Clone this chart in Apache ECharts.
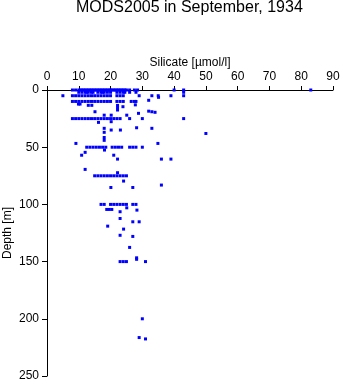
<!DOCTYPE html>
<html>
<head>
<meta charset="utf-8">
<script src="https://cdn.jsdelivr.net/npm/echarts@6/dist/echarts.min.js"></script>
<style>html,body{margin:0;padding:0;background:#fff;}#c{width:341px;height:384px;}</style>
</head>
<body>
<div id="c"></div>
<script>
// Silicate values (µmol/l) observed along standard depth levels
const depthLevels = [0, 2, 5, 10, 25, 50, 75, 100, 150];
const silicateAt0 = [8, 9, 10, 10.5, 11, 11.5, 12, 12.5, 13, 13.5, 14, 14.5, 15, 15.5, 16, 16.5, 17, 17.5, 18, 18.5, 19, 19.5, 20, 20.5, 21, 21.5, 22, 22.5, 23, 23.5, 24, 24.5, 25, 26, 27.5, 28.5, 40, 43, 83];
const silicateAt2 = [10, 11, 12, 12.5, 13, 14, 14.5, 16, 17, 17.5, 18, 19, 20, 22, 23, 24, 24.5, 26, 28, 43];
const silicateAt5 = [5, 8, 9, 10, 11, 12, 13, 14, 15, 16, 17, 18, 19, 20, 22, 23, 24, 29, 33, 35, 39, 43];
const silicateAt10 = [8, 9, 10, 11, 12, 13, 14, 15, 16, 17, 18, 19, 20, 22, 23, 24, 26.5, 27.5, 28];
const silicateAt25 = [8, 9, 10, 11, 12, 13, 14, 15, 16, 17, 18, 19, 20, 21, 22, 23, 26, 30, 43];
const silicateAt50 = [12.5, 13.5, 14.5, 15.5, 16.5, 17.5, 18.5, 20.5, 21.5, 22.5, 23.5, 26, 27, 28, 30];
const silicateAt75 = [15, 16, 17, 18, 19, 20, 21, 22, 23, 24, 25];
const silicateAt100 = [17, 18, 20, 21, 22, 23, 24, 25, 27, 28];
const silicateAt150 = [23, 24, 25, 31];
// Other individual observations: [silicate, depth]
const otherObs = [
  [32, 9], [9.9, 12.3], [10.4, 12.3], [13, 13.4], [14.1, 13.4], [27.8, 13], [22.2, 13.5], [22.2, 15.5],
  [22.2, 17.5], [23.9, 14.6], [15.1, 19], [32, 18.5], [33, 19], [34, 19.5], [28.8, 20.4], [18, 22],
  [20.2, 22], [25.1, 22], [16.2, 28.3], [20.2, 27.7], [18, 33.5], [20.2, 35], [23.1, 35], [28.2, 33],
  [33, 33.5], [18, 37], [18, 41.5], [18, 44], [9.1, 46.7], [34.9, 46.7], [50, 38], [35.1, 6.4],
  [18.1, 52.5], [12, 54.5], [10.9, 57], [21, 57], [22.2, 60.4], [36, 60.4], [39, 60.4], [12, 69.4],
  [22.2, 72.3], [24.1, 79.6], [20.1, 85.2], [27, 85.2], [36, 83.1], [25.1, 103], [18.8, 104.4],
  [19.6, 104.4], [20.4, 104.4], [28.3, 105], [23, 106.4], [23, 112.3], [27, 115.2], [29, 115.2],
  [19.1, 119], [24.1, 121.6], [23, 127], [27, 128], [26, 137.6], [28.2, 146.7], [28.2, 148],
  [30, 200], [29, 216.4], [31, 217.6]
];
const rows = [silicateAt0, silicateAt2, silicateAt5, silicateAt10, silicateAt25, silicateAt50, silicateAt75, silicateAt100, silicateAt150];

const points = [];
rows.forEach((vals, i) => vals.forEach(v => points.push([v, depthLevels[i]])));
otherObs.forEach(p => points.push(p));

const font = 'Liberation Sans, Arial, sans-serif';
const chart = echarts.init(document.getElementById('c'));
chart.setOption({
  animation: false,
  backgroundColor: '#fff',
  title: {
    text: 'MODS2005 in September, 1934',
    left: 76, top: 0, padding: 0,
    textStyle: {fontFamily: font, fontSize: 16, fontWeight: 'normal', color: '#000'}
  },
  grid: {left: 47, right: 8, top: 90, bottom: 8, containLabel: false, outerBoundsMode: 'none'},
  xAxis: {
    type: 'value', position: 'top', min: 0, max: 90, interval: 10,
    name: 'Silicate [µmol/l]', nameLocation: 'middle', nameGap: 21, nameMoveOverlap: false,
    nameTextStyle: {fontFamily: font, fontSize: 12, color: '#000'},
    axisLine: {onZero: false, lineStyle: {color: '#000', width: 1}},
    axisTick: {length: 4, lineStyle: {color: '#000'}},
    axisLabel: {fontFamily: font, fontSize: 12, color: '#000', margin: 7},
    splitLine: {show: false}
  },
  yAxis: {
    type: 'value', inverse: true, min: 0, max: 250, interval: 50,
    name: 'Depth [m]', nameLocation: 'middle', nameGap: 33, nameMoveOverlap: false,
    nameTextStyle: {fontFamily: font, fontSize: 12, color: '#000'},
    axisLine: {onZero: false, lineStyle: {color: '#000', width: 1}},
    axisTick: {length: 5, lineStyle: {color: '#000'}},
    axisLabel: {fontFamily: font, fontSize: 12, color: '#000', margin: 8},
    splitLine: {show: false}
  },
  series: [{
    type: 'scatter',
    symbol: 'rect',
    symbolSize: 3,
    itemStyle: {color: '#0000ff', opacity: 1},
    data: points
  }]
});
</script>
</body>
</html>
